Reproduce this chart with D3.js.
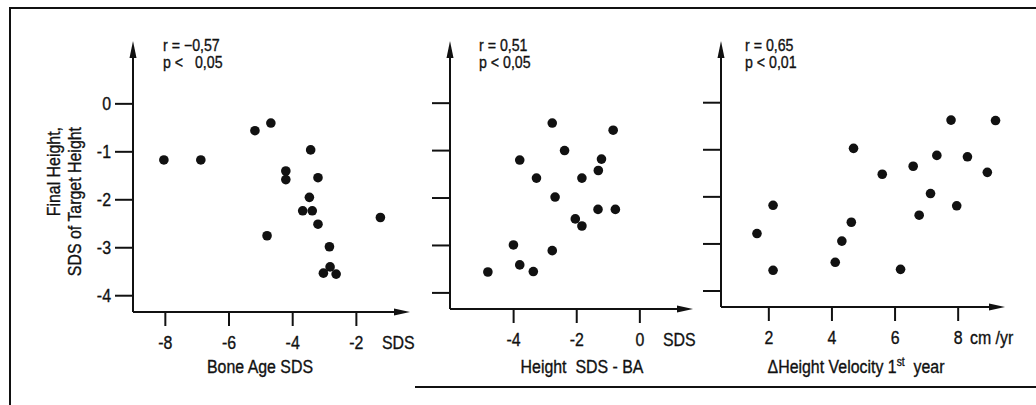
<!DOCTYPE html>
<html>
<head>
<meta charset="utf-8">
<script src="https://cdn.jsdelivr.net/npm/d3@7"></script>
<style>
    body { margin: 0; background: #fff; }
    text { fill: #111; }
</style>
</head>
<body>
<svg></svg>
<script>
// bone age SDS vs final height
let boneAgeX = [-8.03, -6.87, -5.17, -4.67, -3.42, -4.20, -4.20, -3.19, -3.46, -3.67, -3.37, -3.19, -4.79, -2.83, -2.81, -3.02, -2.62, -1.23];
let boneAgeY = [-1.18, -1.18, -0.57, -0.41, -0.97, -1.41, -1.59, -1.55, -1.96, -2.24, -2.24, -2.52, -2.76, -2.99, -3.41, -3.54, -3.56, -2.38];

// height SDS for bone age vs final height
let heightBaX = [-4.80, -3.99, -3.79, -3.36, -2.76, -3.79, -3.26, -2.76, -2.37, -2.67, -1.82, -2.03, -1.82, -1.31, -0.76, -1.30, -1.20, -0.83];
let heightBaY = [-3.57, -3.00, -3.42, -3.56, -3.12, -1.21, -1.59, -0.43, -1.01, -1.99, -1.59, -2.45, -2.60, -2.25, -2.25, -1.43, -1.19, -0.58];

// delta height velocity 1st year vs final height
let velocityX = [1.64, 2.15, 2.15, 4.12, 4.33, 4.63, 4.70, 5.61, 6.19, 6.59, 6.78, 7.14, 7.34, 7.79, 7.97, 8.31, 8.94, 9.20];
let velocityY = [-2.79, -2.19, -3.57, -3.40, -2.95, -2.55, -0.98, -1.53, -3.55, -1.36, -2.40, -1.94, -1.13, -0.38, -2.20, -1.16, -1.49, -0.39];

let yTicks = [0, -1, -2, -3, -4];
let xTicks1 = [-8, -6, -4, -2];
let xTicks2 = [-4, -2, 0];
let xTicks3 = [2, 4, 6, 8];

let stats1 = ['r = \u22120,57', 'p <   0,05'];
let stats2 = ['r = 0,51', 'p < 0,05'];
let stats3 = ['r = 0,65', 'p < 0,01'];

let width = 1036;
let height = 405;
let font = '"Liberation Sans", Arial, sans-serif';
let narrow = 0.86; // the print uses a condensed face

let svg = d3.select('svg')
    .attr('width', width)
    .attr('height', height)
    .attr('font-family', font);

// squeeze text horizontally, keeps the anchor point in place
function squeeze(sel, sx) {
    sel.each(function () {
        let t = d3.select(this);
        let x = +t.attr('x') || 0;
        let y = +t.attr('y') || 0;
        let pre = t.attr('transform') || `translate(${x},${y})`;
        t.attr('x', null).attr('y', null)
            .attr('transform', `${pre} scale(${sx},1)`)
            .attr('stroke', '#111')
            .attr('stroke-width', 0.35);
    });
}

// outer frame (open at bottom-left like the scan)
let frame = svg.append('g')
    .attr('stroke', '#111')
    .attr('stroke-width', 2)
    .attr('fill', 'none');
frame.append('path').attr('d', 'M10,405 V8 H1036');
frame.append('path').attr('d', 'M415,387 H1036');

let panels = [
    { xs: boneAgeX, ys: boneAgeY, xDom: [-9, -0.3], left: 133, right: 410, axisY: 312,
      ticks: xTicks1, unit: 'SDS', unitX: 382, title: 'Bone Age SDS', titleX: 260,
      stats: stats1, statsX: 163, yLabels: true },
    { xs: heightBaX, ys: heightBaY, xDom: [-6, 1.7], left: 450, right: 693, axisY: 309,
      ticks: xTicks2, unit: 'SDS', unitX: 663, title: 'Height  SDS - BA', titleX: 582,
      stats: stats2, statsX: 479, yLabels: false },
    { xs: velocityX, ys: velocityY, xDom: [0.5, 9.5], left: 721, right: 1005, axisY: 307,
      ticks: xTicks3, unit: 'cm /yr', unitX: 970, title: null, titleX: 856,
      stats: stats3, statsX: 745, yLabels: false }
];

panels.forEach(p => {
    let x = d3.scaleLinear().domain(p.xDom).range([p.left, p.right]);
    let y = d3.scaleLinear().domain([-4.35, 1.3]).range([p.axisY, 41]);
    let g = svg.append('g');

    let xAxis = g.append('g')
        .attr('transform', `translate(0,${p.axisY})`)
        .call(d3.axisBottom(x).tickValues(p.ticks).tickSize(14).tickPadding(10)
            .tickFormat(d => String(d)));
    let yAxis = g.append('g')
        .attr('transform', `translate(${p.left},0)`)
        .call(d3.axisLeft(y).tickValues(yTicks).tickSize(18).tickPadding(4)
            .tickFormat(d => p.yLabels ? String(d) : ''));

    [xAxis, yAxis].forEach(a => {
        a.select('.domain').remove();
        a.selectAll('line').attr('stroke', '#111').attr('stroke-width', 2);
        a.selectAll('text').attr('font-size', 18.5).attr('fill', '#111').attr('font-family', font)
            .call(squeeze, narrow);
    });

    // axis lines with arrow heads
    let x0 = x.range()[0], x1 = x.range()[1];
    let y0 = y.range()[0], y1 = y.range()[1];
    g.append('path')
        .attr('d', `M${x0},${y0} H${x1 - 10} M${x0},${y0} V${y1 + 12}`)
        .attr('stroke', '#111')
        .attr('stroke-width', 2)
        .attr('fill', 'none');
    g.append('path')
        .attr('d', `M${x1},${y0} L${x1 - 16},${y0 - 3.5} L${x1 - 16},${y0 + 3.5} Z`)
        .attr('fill', '#111');
    g.append('path')
        .attr('d', `M${x0},${y1} L${x0 - 3.5},${y1 + 17} L${x0 + 3.5},${y1 + 17} Z`)
        .attr('fill', '#111');

    g.selectAll('circle')
        .data(p.xs.map((v, i) => [v, p.ys[i]]))
        .enter()
        .append('circle')
        .attr('cx', d => x(d[0]))
        .attr('cy', d => y(d[1]))
        .attr('r', 4.8)
        .attr('fill', '#111');

    g.append('text')
        .attr('x', p.unitX)
        .attr('y', p.axisY + 37)
        .attr('font-size', 18.5)
        .call(squeeze, narrow)
        .text(p.unit);

    let title = g.append('text')
        .attr('x', p.titleX)
        .attr('y', 373)
        .attr('text-anchor', 'middle')
        .attr('font-size', 18.5)
        .style('white-space', 'pre');
    if (p.title) {
        title.text(p.title);
    } else {
        title.append('tspan').text('\u0394Height Velocity 1');
        title.append('tspan').attr('font-size', 12).attr('dy', -7).text('st');
        title.append('tspan').attr('dy', 7).text('  year');
    }
    title.call(squeeze, narrow);

    g.selectAll('.stat')
        .data(p.stats)
        .enter()
        .append('text')
        .attr('class', 'stat')
        .attr('x', p.statsX)
        .attr('y', (d, i) => 51 + i * 17)
        .attr('font-size', 16.5)
        .style('white-space', 'pre')
        .text(d => d)
        .call(squeeze, 0.86);
});

// y axis title
let yTitle = ['Final Height,', 'SDS of Target Height'];
svg.selectAll('.ytitle')
    .data(yTitle)
    .enter()
    .append('text')
    .attr('class', 'ytitle')
    .attr('transform', (d, i) => `translate(${60 + i * 21},127) rotate(-90)`)
    .attr('text-anchor', 'end')
    .attr('font-size', 18.5)
    .text(d => d)
    .call(squeeze, narrow);
</script>
</body>
</html>
